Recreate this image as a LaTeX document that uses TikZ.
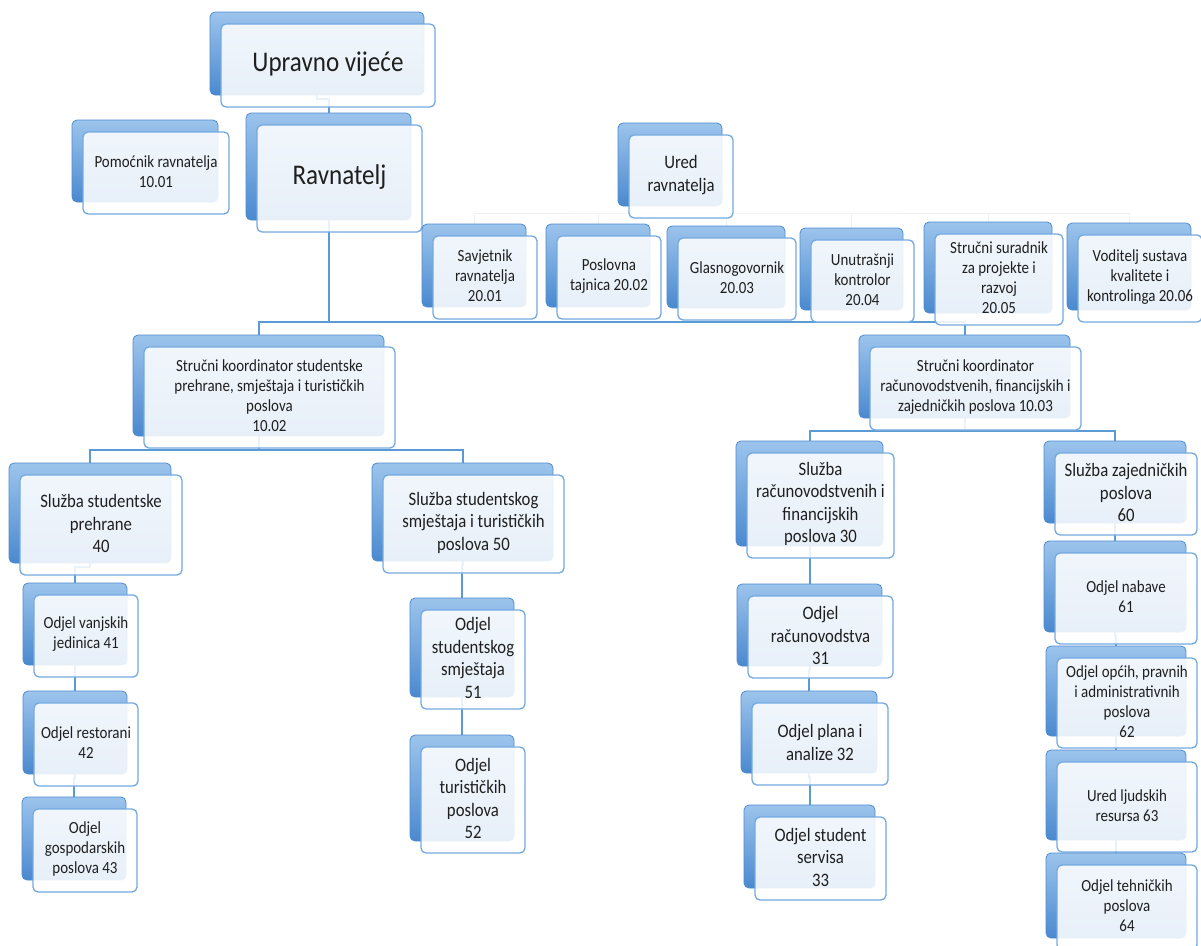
\documentclass[tikz,border=0pt]{standalone}
\usepackage{fontspec}
\setmainfont[FakeStretch=0.88]{Carlito}
\usetikzlibrary{calc}
\pgfdeclarelayer{background}
\pgfsetlayers{background,main}
\definecolor{conncol}{HTML}{5B9BD5}
\definecolor{backtop}{HTML}{9CC4EC}
\definecolor{backbot}{HTML}{4A89CF}
\definecolor{backedge}{HTML}{4F8CCF}
\definecolor{frontedge}{HTML}{74A9DF}
\definecolor{faintcol}{HTML}{EEF0F3}
\tikzset{
  backbox/.style={rectangle, rounded corners=5pt, inner sep=0pt, outer sep=0pt,
    top color=backtop, bottom color=backbot, draw=backedge, line width=0.8pt},
  frontbox/.style={rectangle, rounded corners=5pt, inner sep=0pt, outer sep=0pt,
    fill=white, fill opacity=0.87, draw=frontedge, line width=1.3pt},
  txt/.style={align=center, inner sep=0pt, text=black!88},
  fhuge/.style={txt, font=\fontsize{28.5}{34}\selectfont},
  fmid/.style={txt, font=\fontsize{19}{22.5}\selectfont},
  fsmall/.style={txt, font=\fontsize{17}{20}\selectfont},
  conn/.style={draw=conncol, line width=2pt},
  faint/.style={draw=faintcol, line width=1pt}
}
% #1 name, #2..#5 front box x1,y1,x2,y2 (px), #6 text style, #7 text
\newcommand\obox[7]{%
  \node[backbox, minimum width={(#4-#2)*1pt}, minimum height={(#5-#3)*1pt}]
    (#1) at ({(#2+#4)/2-11},{(#3+#5)/2-12}) {};
  \node[frontbox, minimum width={(#4-#2)*1pt}, minimum height={(#5-#3)*1pt}]
    (#1-f) at ({(#2+#4)/2},{(#3+#5)/2}) {};
  \node[#6] (#1-t) at ([yshift=1.5pt]#1-f.center) {#7};
}
\begin{document}
\begin{tikzpicture}[x=1pt,y=-1pt]
\useasboundingbox (0,0) rectangle (1201,945);
% top
\obox{upr}{221}{24}{435}{107}{fhuge}{Upravno vijeće}
\obox{rav}{257}{125}{422}{232}{fhuge}{Ravnatelj}
\obox{pom}{83}{132}{229}{214}{fsmall}{Pomoćnik ravnatelja\\10.01}
\obox{ured}{629}{135}{733}{218}{fmid}{Ured\\ravnatelja}
% 20.xx row
\obox{sav}{433}{236}{537}{319}{fsmall}{Savjetnik\\ravnatelja\\20.01}
\obox{pos}{557}{236}{661}{319}{fsmall}{Poslovna\\tajnica 20.02}
\obox{gla}{678}{238}{796}{320}{fsmall}{Glasnogovornik\\20.03}
\obox{unu}{811}{240}{914}{322}{fsmall}{Unutrašnji\\kontrolor\\20.04}
\obox{str}{935}{234}{1063}{325}{fsmall}{Stručni suradnik\\za projekte i\\razvoj\\20.05}
\obox{vod}{1078}{235}{1202}{322}{fsmall}{Voditelj sustava\\kvalitete i\\kontrolinga 20.06}
% coordinators
\obox{kA}{144}{347}{395}{448}{fsmall}{Stručni koordinator studentske\\prehrane, smještaja i turističkih\\poslova\\10.02}
\obox{kB}{870}{347}{1081}{430}{fsmall}{Stručni koordinator\\računovodstvenih, financijskih i\\zajedničkih poslova 10.03}
% left branch
\obox{s40}{20}{475}{182}{575}{fmid}{Služba studentske\\prehrane\\40}
\obox{o41}{34}{595}{138}{677}{fsmall}{Odjel vanjskih\\jedinica 41}
\obox{o42}{34}{703}{138}{786}{fsmall}{Odjel restorani\\42}
\obox{o43}{33}{809}{137}{892}{fsmall}{Odjel\\gospodarskih\\poslova 43}
\obox{s50}{383}{475}{564}{573}{fmid}{Služba studentskog\\smještaja i turističkih\\poslova 50}
\obox{o51}{421}{610}{525}{709}{fmid}{Odjel\\studentskog\\smještaja\\51}
\obox{o52}{421}{747}{525}{853}{fmid}{Odjel\\turističkih\\poslova\\52}
% right branch
\obox{s30}{747}{453}{894}{558}{fmid}{Služba\\računovodstvenih i\\financijskih\\poslova 30}
\obox{o31}{748}{596}{893}{678}{fmid}{Odjel\\računovodstva\\31}
\obox{o32}{752}{703}{888}{785}{fmid}{Odjel plana i\\analize 32}
\obox{o33}{755}{817}{886}{900}{fmid}{Odjel student\\servisa\\33}
\obox{s60}{1055}{453}{1197}{535}{fmid}{Služba zajedničkih\\poslova\\60}
\obox{o61}{1055}{553}{1197}{644}{fsmall}{Odjel nabave\\61}
\obox{o62}{1057}{658}{1197}{748}{fsmall}{Odjel općih, pravnih\\i administrativnih\\poslova\\62}
\obox{o63}{1057}{762}{1197}{852}{fsmall}{Ured ljudskih\\resursa 63}
\obox{o64}{1057}{865}{1197}{950}{fsmall}{Odjel tehničkih\\poslova\\64}
% junctions
\coordinate (j1) at (rav |- 0,322);
\coordinate (j2) at (kA |- 0,450);
\coordinate (j3) at (kB |- 0,431);
\coordinate (jU) at (ured |- 0,213);
\begin{pgfonlayer}{background}
  % faint links of Ured ravnatelja
  \draw[faint] (sav) |- (jU) -| (vod);
  \foreach \n in {pos,gla,unu,str} \draw[faint] (\n) -- (\n |- jU);
  \draw[faint] (ured) -- (jU);
  % main tree
  \draw[conn] (upr) -- ([yshift=-4pt]upr.south) -| (rav);
  \draw[conn] (rav) -- (j1);
  \draw[conn] (kA) |- (j1) -| (kB);
  \draw[conn] (kA) -- (j2);
  \draw[conn] (s40) |- (j2) -| (s50);
  \draw[conn] (kB) -- (j3);
  \draw[conn] (s30) |- (j3) -| (s60);
  \foreach \a/\b in {s40/o41,o41/o42,o42/o43,s50/o51,o51/o52,
                     s30/o31,o31/o32,o32/o33,
                     s60/o61,o61/o62,o62/o63,o63/o64}
    \draw[conn] (\a) -- ([yshift=-4pt]\a.south) -| (\b);
\end{pgfonlayer}
\end{tikzpicture}
\end{document}
